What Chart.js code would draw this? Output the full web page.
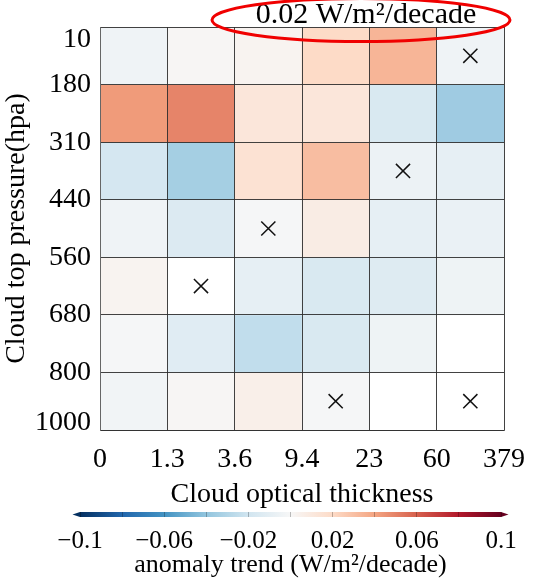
<!DOCTYPE html>
<html>
<head>
<meta charset="utf-8">
<script src="https://cdn.jsdelivr.net/npm/chart.js@4.4.1/dist/chart.umd.min.js"></script>
<style>
  html, body { margin: 0; padding: 0; background: #ffffff; }
  #wrap { position: relative; width: 552px; height: 578px; }
  canvas { position: absolute; left: 0; top: 0; }
</style>
</head>
<body>
<div id="wrap">
  <canvas id="main" width="552" height="578"></canvas>
  <canvas id="cbar" width="552" height="578"></canvas>
</div>
<script>
// ---------- data ----------
const thicknessLabels = ['0', '1.3', '3.6', '9.4', '23', '60', '379'];
const pressureLabels = ['10', '180', '310', '440', '560', '680', '800', '1000'];

// anomaly trend (W/m2/decade), rows from top (10-180 hPa) to bottom (800-1000 hPa); null = blank cell
const trend_10_180    = [-0.004, 0.0014, 0.0028, 0.020, 0.034, -0.004];
const trend_180_310   = [0.043, 0.0496, 0.012, 0.012, -0.016, -0.036];
const trend_310_440   = [-0.018, -0.034, 0.015, 0.031, -0.006, -0.009];
const trend_440_560   = [-0.004, -0.014, -0.001, 0.008, -0.009, -0.007];
const trend_560_680   = [0.003, null, -0.009, -0.016, -0.013, -0.005];
const trend_680_800   = [-0.001, -0.012, -0.025, -0.016, -0.005, null];
const trend_800_1000  = [-0.003, 0.0014, 0.006, -0.001, null, null];
const trendRows = [trend_10_180, trend_180_310, trend_310_440, trend_440_560, trend_560_680, trend_680_800, trend_800_1000];

// cells marked with a cross: [row, column]
const crossedCells = [[0, 5], [2, 4], [3, 2], [4, 1], [6, 3], [6, 5]];

// colour bar
const cbMin = -0.1, cbMax = 0.1, cbStep = 0.02;
const cbTickLabels = [-0.1, -0.06, -0.02, 0.02, 0.06, 0.1];
const rdbuStops = ['#053061', '#2166ac', '#4393c3', '#92c5de', '#d1e5f0', '#f7f7f7',
                   '#fddbc7', '#f4a582', '#d6604d', '#b2182b', '#67001f'];

// ---------- helpers ----------
const FONT = "'Liberation Serif', 'Times New Roman', Times, serif";
function hexToRgb(h) { return [1, 3, 5].map(i => parseInt(h.substr(i, 2), 16)); }
const stopRgb = rdbuStops.map(hexToRgb);
function colorFor(v) {
  let t = (v - cbMin) / (cbMax - cbMin);
  t = Math.max(0, Math.min(1, t));
  const pos = t * (stopRgb.length - 1);
  const i = Math.min(Math.floor(pos), stopRgb.length - 2);
  const f = pos - i;
  const a = stopRgb[i], b = stopRgb[i + 1];
  const c = a.map((x, k) => Math.round(x + (b[k] - x) * f));
  return `rgb(${c[0]},${c[1]},${c[2]})`;
}
function fmtMinus(v) {
  const s = String(Math.abs(v) < 1e-12 ? 0 : +v.toFixed(2));
  return s.replace('-', '\u2212');
}

// ---------- main heatmap ----------
const cellDatasets = trendRows.map((row, i) => ({
  type: 'bar',
  label: pressureLabels[i] + '\u2013' + pressureLabels[i + 1],
  data: row.map((v, j) => ({ x: j + 0.5, y: [i, i + 1], v: v })).filter(d => d.v !== null),
  backgroundColor: ctx => (ctx.raw && typeof ctx.raw.v === 'number') ? colorFor(ctx.raw.v) : 'rgba(0,0,0,0)',
  borderWidth: 0,
  barPercentage: 1,
  categoryPercentage: 1,
  grouped: false,
  order: 1
}));

const crossDataset = {
  type: 'scatter',
  label: 'significant',
  data: crossedCells.map(([r, c]) => ({ x: c + 0.5, y: r + 0.5 })),
  pointStyle: 'crossRot',
  pointRadius: 10,
  pointBorderWidth: 1.5,
  borderColor: '#111111',
  backgroundColor: '#111111',
  order: 0
};

// first pressure label hangs below the top edge, last one sits on the bottom edge
const edgeLabels = {
  id: 'edgeLabels',
  beforeDraw(chart) {
    const s = chart.scales.y;
    const items = s.getLabelItems(chart.chartArea);
    (items || []).forEach(it => {
      if (it.label === pressureLabels[0]) it.options.textBaseline = 'hanging';
      if (it.label === pressureLabels[pressureLabels.length - 1]) it.options.textBaseline = 'alphabetic';
    });
  }
};

const annotation = {
  id: 'annotation',
  afterDraw(chart) {
    const ctx = chart.ctx;
    ctx.save();
    ctx.font = `30px ${FONT}`;
    ctx.fillStyle = '#000';
    ctx.textAlign = 'center';
    ctx.textBaseline = 'alphabetic';
    ctx.fillText('0.02 W/m\u00b2/decade', 366, 23);
    ctx.beginPath();
    ctx.ellipse(361, 20, 149, 21.5, 0, 0, Math.PI * 2);
    ctx.strokeStyle = '#f00000';
    ctx.lineWidth = 3;
    ctx.stroke();
    ctx.restore();
  }
};

const gridColor = 'rgba(45,45,45,0.9)';
const borderColor = '#666666';

new Chart(document.getElementById('main'), {
  type: 'bar',
  data: { datasets: [crossDataset, ...cellDatasets] },
  options: {
    responsive: false,
    animation: false,
    events: [],
    layout: { padding: { left: 0, top: 27, right: 48, bottom: 67 } },
    plugins: { legend: { display: false }, tooltip: { enabled: false } },
    scales: {
      x: {
        type: 'linear', min: 0, max: thicknessLabels.length - 1, offset: false,
        grid: { offset: false, color: gridColor, lineWidth: 1, drawTicks: false, z: 1 },
        border: { color: borderColor, width: 1, z: 1 },
        ticks: {
          stepSize: 1, autoSkip: false, maxRotation: 0, padding: 13, color: '#000',
          font: { family: FONT, size: 28 },
          callback: v => thicknessLabels[v] ?? ''
        },
        title: { display: true, text: 'Cloud optical thickness', color: '#000', font: { family: FONT, size: 28 }, padding: 0 },
        afterFit: s => { s.height = 81; }
      },
      y: {
        type: 'linear', min: 0, max: pressureLabels.length - 1, reverse: true,
        grid: { color: gridColor, lineWidth: 1, drawTicks: false, z: 1 },
        border: { color: borderColor, width: 1, z: 1 },
        ticks: {
          stepSize: 1, autoSkip: false, padding: 9, color: '#000',
          font: { family: FONT, size: 28 },
          callback: v => pressureLabels[v] ?? ''
        },
        title: { display: true, text: 'Cloud top pressure(hpa)', color: '#000', font: { family: FONT, size: 28 }, padding: 0 },
        afterFit: s => { s.width = 100; }
      }
    }
  },
  plugins: [edgeLabels, annotation]
});

// ---------- colour bar ----------
const cbarEnds = {
  id: 'cbarEnds',
  afterDatasetsDraw(chart) {
    const ctx = chart.ctx, xs = chart.scales.x, a = chart.chartArea;
    const x0 = xs.getPixelForValue(cbMin), x1 = xs.getPixelForValue(cbMax);
    const mid = (a.top + a.bottom) / 2, len = 7.5;
    ctx.save();
    ctx.fillStyle = rdbuStops[0];
    ctx.beginPath(); ctx.moveTo(x0, a.top); ctx.lineTo(x0 - len, mid); ctx.lineTo(x0, a.bottom); ctx.closePath(); ctx.fill();
    ctx.fillStyle = rdbuStops[rdbuStops.length - 1];
    ctx.beginPath(); ctx.moveTo(x1, a.top); ctx.lineTo(x1 + len, mid); ctx.lineTo(x1, a.bottom); ctx.closePath(); ctx.fill();
    ctx.restore();
  }
};

new Chart(document.getElementById('cbar'), {
  type: 'bar',
  data: {
    labels: ['anomaly trend'],
    datasets: [{
      data: [[cbMin, cbMax]],
      backgroundColor: ctx => {
        const chart = ctx.chart;
        if (!chart.chartArea) return rdbuStops[5];
        const xs = chart.scales.x;
        const g = chart.ctx.createLinearGradient(xs.getPixelForValue(cbMin), 0, xs.getPixelForValue(cbMax), 0);
        rdbuStops.forEach((c, i) => g.addColorStop(i / (rdbuStops.length - 1), c));
        return g;
      },
      borderWidth: 0,
      barPercentage: 1,
      categoryPercentage: 1
    }]
  },
  options: {
    indexAxis: 'y',
    responsive: false,
    animation: false,
    events: [],
    layout: { padding: { left: 80, right: 51, top: 512, bottom: 0 } },
    plugins: { legend: { display: false }, tooltip: { enabled: false } },
    scales: {
      x: {
        type: 'linear', min: cbMin, max: cbMax,
        grid: { color: 'rgba(0,0,0,0.25)', lineWidth: 1, drawTicks: false, z: 1 },
        border: { display: false },
        ticks: {
          stepSize: cbStep, autoSkip: false, maxRotation: 0, padding: 9, color: '#000',
          font: { family: FONT, size: 25 },
          callback: v => cbTickLabels.some(t => Math.abs(t - v) < 1e-9) ? fmtMinus(v) : ''
        },
        title: { display: true, text: 'anomaly trend (W/m\u00b2/decade)', color: '#000', font: { family: FONT, size: 26, lineHeight: 1 }, padding: 0 },
        afterFit: s => { s.height = 61; }
      },
      y: { display: false }
    }
  },
  plugins: [cbarEnds]
});
</script>
</body>
</html>
